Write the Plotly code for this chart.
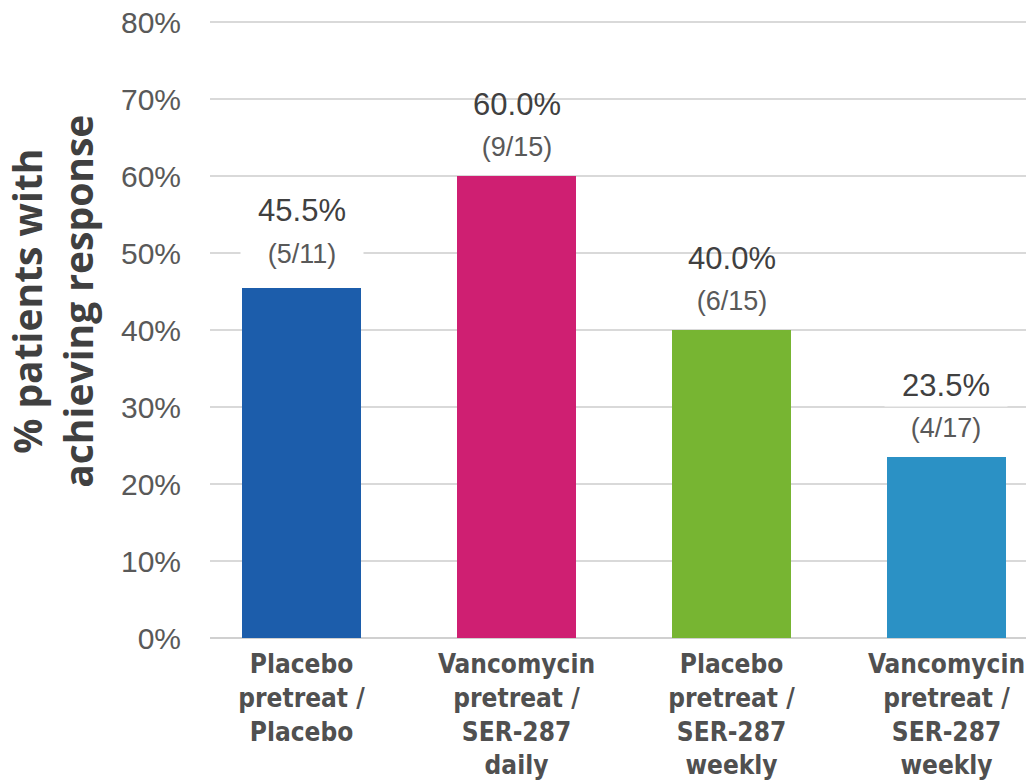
import plotly.graph_objects as go

categories = [
    "Placebo<br>pretreat /<br>Placebo",
    "Vancomycin<br>pretreat /<br>SER-287<br>daily",
    "Placebo<br>pretreat /<br>SER-287<br>weekly",
    "Vancomycin<br>pretreat /<br>SER-287<br>weekly",
]
values = [45.5, 60.0, 40.0, 23.5]
responders = [5, 9, 6, 4]
totals = [11, 15, 15, 17]
bar_colors = ["#1C5DAB", "#CF1F72", "#77B532", "#2B91C5"]
y_ticks = [0, 10, 20, 30, 40, 50, 60, 70, 80]
y_title = "% patients with<br>achieving response"

boxed = {0, 3}

x = list(range(len(categories)))

fig = go.Figure()
fig.add_trace(go.Bar(
    x=x, y=values, width=0.553,
    marker=dict(color=bar_colors, line=dict(width=0)),
    hoverinfo="skip",
))

for i, (v, r, t) in enumerate(zip(values, responders, totals)):
    bg = "white" if i in boxed else "rgba(0,0,0,0)"
    lift = 5 if i == 0 else 0
    fig.add_annotation(
        x=i, y=v, xref="x", yref="y",
        text=f"{v:.1f}%", showarrow=False,
        font=dict(family="Liberation Sans, Arial", size=31, color="#404040"),
        yanchor="middle", yshift=72 + lift,
        bgcolor=bg, width=116, borderpad=3,
    )
    fig.add_annotation(
        x=i, y=v, xref="x", yref="y",
        text=f"({r}/{t})", showarrow=False,
        font=dict(family="Liberation Sans, Arial", size=27, color="#595959"),
        yanchor="middle", yshift=29 + lift,
        bgcolor=bg, width=116, borderpad=3,
    )

fig.add_annotation(
    xref="paper", yref="paper", x=0, y=0.545, xshift=-158,
    text=f"<b>{y_title}</b>", textangle=-90, showarrow=False,
    font=dict(family="Open Sans", size=39, color="#404040"),
    xanchor="center", yanchor="middle",
)

fig.update_layout(
    width=1026, height=782,
    margin=dict(l=210, r=0, t=21, b=144, autoexpand=False),
    plot_bgcolor="white", paper_bgcolor="white",
    showlegend=False, bargap=0,
    xaxis=dict(
        tickmode="array", tickvals=x, ticktext=[f"<b>{c}</b>" for c in categories],
        range=[-0.4256, 3.3698], showgrid=False, zeroline=False,
        showline=False, ticks="", ticklabelstandoff=8,
        tickfont=dict(family="DejaVu Sans Condensed", size=26, color="#505050"),
        fixedrange=True,
    ),
    yaxis=dict(
        range=[0, 80.15], tickvals=y_ticks, ticktext=[f"{t}%" for t in y_ticks],
        showgrid=True, gridcolor="#D9D9D9", gridwidth=1.5,
        zeroline=True, zerolinecolor="#D0D0D0", zerolinewidth=2,
        showline=False, ticks="", ticklabelstandoff=28,
        tickfont=dict(family="Liberation Sans, Arial", size=30, color="#595959"),
        fixedrange=True,
    ),
)

fig.write_html("out.html")
